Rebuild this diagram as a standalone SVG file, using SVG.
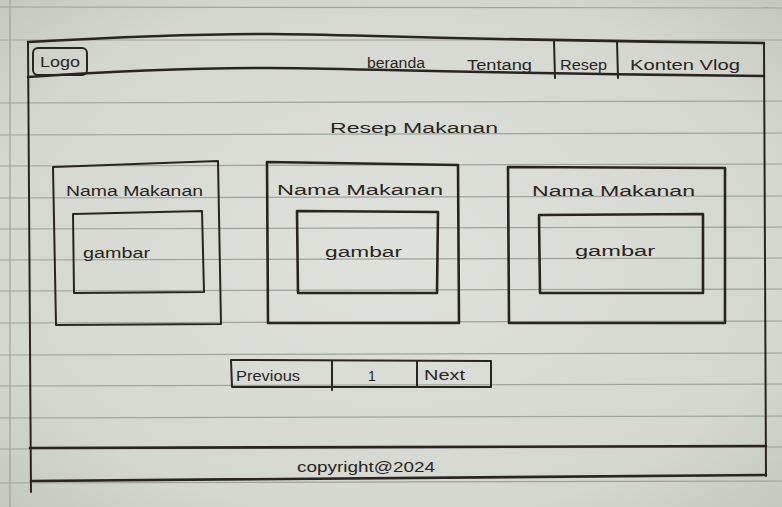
<svg xmlns="http://www.w3.org/2000/svg" width="782" height="507" viewBox="0 0 782 507">
<style>
.ink{fill:none;stroke:#2a2420;stroke-width:2;stroke-linecap:round;stroke-linejoin:round}
.thick{stroke-width:2.6}
.rule{stroke:#9ea39d;stroke-width:1.2;fill:none}
.t{font-family:"Liberation Sans","DejaVu Sans",sans-serif;fill:#2a2420;font-size:14px}
</style>
<defs>
<radialGradient id="paper" cx="0.5" cy="0.5" r="0.75">
<stop offset="0" stop-color="#dfe2dc"/>
<stop offset="0.7" stop-color="#d3d7d0"/>
<stop offset="1" stop-color="#bfc4bd"/>
</radialGradient>
</defs>
<rect width="782" height="507" fill="url(#paper)"/>
<g id="paper-lines">
<path class="rule" d="M0,7 L782,8"/>
<path class="rule" d="M10,0 L10,507"/>
<path class="rule" d="M0,40 L782,40"/>
<path class="rule" d="M0,103 L782,101"/>
<path class="rule" d="M0,135 L782,133"/>
<path class="rule" d="M0,166 L782,164"/>
<path class="rule" d="M0,198 L782,196"/>
<path class="rule" d="M0,229 L782,227"/>
<path class="rule" d="M0,260 L782,258"/>
<path class="rule" d="M0,291 L782,289"/>
<path class="rule" d="M0,323 L782,321"/>
<path class="rule" d="M0,355 L782,353"/>
<path class="rule" d="M0,386 L782,384"/>
<path class="rule" d="M0,418 L782,416"/>
<path class="rule" d="M0,449 L782,447"/>
<path class="rule" d="M0,483 L782,481"/>
</g>
<g id="frame">
<path class="ink thick" d="M28,42 C120,37 200,34 270,34 S450,40 764,43"/>
<path class="ink thick" d="M28,77 C100,72 200,68 270,68 S450,73 764,76"/>
<path class="ink" d="M28,42 L31,492"/>
<path class="ink" d="M764,43 L766,476"/>
</g>
<g id="header">
<rect class="ink" x="33" y="48" width="54" height="27" rx="5"/>
<text class="t" x="40" y="67" textLength="40" lengthAdjust="spacingAndGlyphs">Logo</text>
<text class="t" x="367" y="68" textLength="58" lengthAdjust="spacingAndGlyphs">beranda</text>
<text class="t" x="467" y="70" textLength="65" lengthAdjust="spacingAndGlyphs">Tentang</text>
<path class="ink" d="M554,40 L555,78"/>
<text class="t" x="560" y="70" textLength="47" lengthAdjust="spacingAndGlyphs">Resep</text>
<path class="ink" d="M617,41 L618,78"/>
<text class="t" x="630" y="70" textLength="110" lengthAdjust="spacingAndGlyphs">Konten Vlog</text>
</g>
<g id="title">
<text class="t" x="330" y="133" font-size="16" textLength="168" lengthAdjust="spacingAndGlyphs">Resep Makanan</text>
</g>
<g id="card1">
<path class="ink" d="M53,167 L218,161 L221,324 L56,325 Z"/>
<text class="t" x="66" y="196" textLength="137" lengthAdjust="spacingAndGlyphs">Nama Makanan</text>
<path class="ink" d="M73,214 L202,211 L204,292 L74,293 Z"/>
<text class="t" x="83" y="258" textLength="67" lengthAdjust="spacingAndGlyphs">gambar</text>
</g>
<g id="card2">
<path class="ink thick" d="M267,162 L458,165 L459,323 L268,323 Z"/>
<text class="t" x="277" y="195" textLength="166" lengthAdjust="spacingAndGlyphs">Nama Makanan</text>
<path class="ink thick" d="M297,211 L438,212 L437,293 L298,293 Z"/>
<text class="t" x="325" y="257" textLength="77" lengthAdjust="spacingAndGlyphs">gambar</text>
</g>
<g id="card3">
<path class="ink thick" d="M508,167 L725,168 L725,323 L509,323 Z"/>
<text class="t" x="532" y="196" textLength="163" lengthAdjust="spacingAndGlyphs">Nama Makanan</text>
<path class="ink thick" d="M539,215 L703,214 L703,293 L540,293 Z"/>
<text class="t" x="575" y="256" textLength="80" lengthAdjust="spacingAndGlyphs">gambar</text>
</g>
<g id="pagination">
<path class="ink" d="M231,360 L491,361 L491,387 L232,387 Z"/>
<path class="ink" d="M332,361 L332,390"/>
<path class="ink" d="M417,361 L417,387"/>
<text class="t" x="236" y="381" textLength="64" lengthAdjust="spacingAndGlyphs">Previous</text>
<text class="t" x="368" y="381" font-size="16">1</text>
<text class="t" x="424" y="380" textLength="41" lengthAdjust="spacingAndGlyphs">Next</text>
</g>
<g id="footer">
<path class="ink thick" d="M30,448 L766,446"/>
<path class="ink thick" d="M31,481 Q400,479 766,475"/>
<text class="t" x="297" y="472" textLength="138" lengthAdjust="spacingAndGlyphs">copyright@2024</text>
</g>
</svg>
